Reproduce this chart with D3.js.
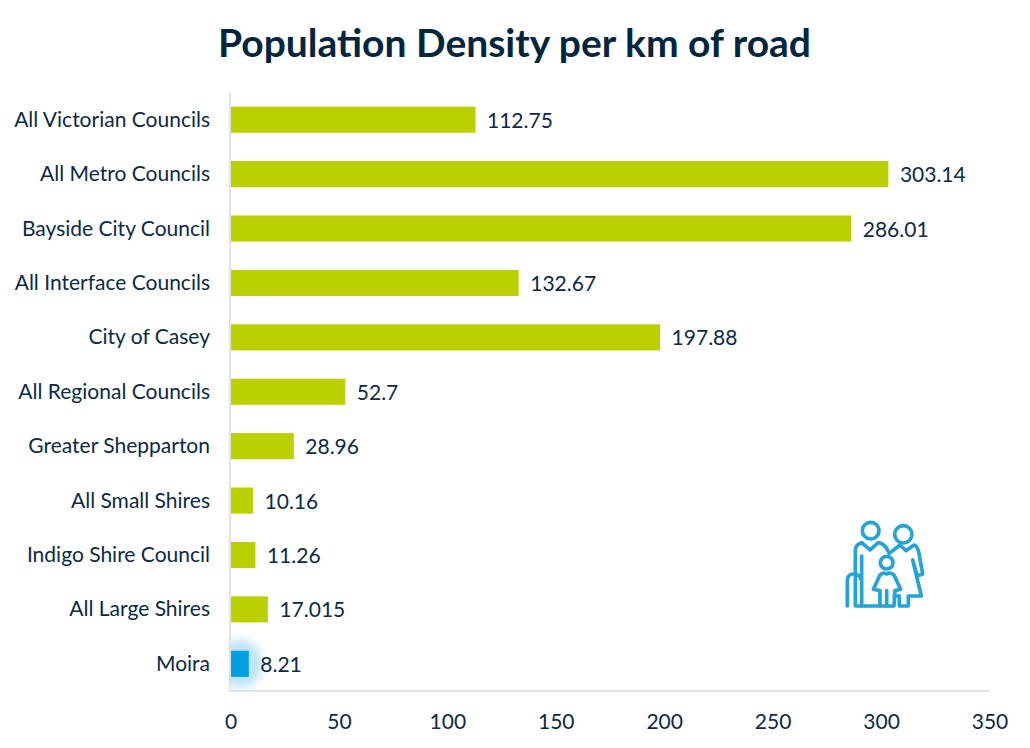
<!DOCTYPE html>
<html lang="en">
<head>
  <meta charset="UTF-8">
  <title>Population Density per km of road</title>
  <script src="https://d3js.org/d3.v7.min.js"></script>
  <style>
    html, body { margin: 0; padding: 0; background: #fff; }
    svg { display: block; }
    text { font-family: Lato, "Open Sans", sans-serif; fill: #0b2a45; }
    .title { font-size: 39px; font-weight: 700; fill: #03263f; text-anchor: middle; }
    .cat, .val, .tick-label { font-size: 21px; }
    .cat { text-anchor: end; }
    .tick-label { text-anchor: middle; }
    .axis-line { stroke: #e2e2e2; stroke-width: 2px; fill: none; }
    .icon path, .icon circle { fill: none; stroke: #23a4d8; stroke-width: 11; stroke-linejoin: round; stroke-linecap: round; }
  </style>
</head>
<body>
  <div id="chart"></div>

  <script>
    const categories = [
      "All Victorian Councils", "All Metro Councils", "Bayside City Council",
      "All Interface Councils", "City of Casey", "All Regional Councils",
      "Greater Shepparton", "All Small Shires", "Indigo Shire Council",
      "All Large Shires", "Moira"
    ];
    const values = [112.75, 303.14, 286.01, 132.67, 197.88, 52.7, 28.96, 10.16, 11.26, 17.015, 8.21];
    const highlighted = ["Moira"];
    const xTicks = [0, 50, 100, 150, 200, 250, 300, 350];

    const width = 1030, height = 748;
    const svg = d3.select("#chart").append("svg")
      .attr("width", width)
      .attr("height", height);

    const x = d3.scaleLinear().domain([0, 350]).range([231, 990]);
    const y = d3.scaleBand().domain(categories).range([92.5, 691]).paddingInner(0.52).paddingOuter(0.26);

    const defs = svg.append("defs");
    const glow = defs.append("radialGradient").attr("id", "glow");
    glow.append("stop").attr("offset", "0%").attr("stop-color", "#a6dcf5").attr("stop-opacity", 0.95);
    glow.append("stop").attr("offset", "60%").attr("stop-color", "#b5e2f7").attr("stop-opacity", 0.8);
    glow.append("stop").attr("offset", "100%").attr("stop-color", "#d5effb").attr("stop-opacity", 0);
    defs.append("filter").attr("id", "soft").append("feGaussianBlur").attr("stdDeviation", 0.6);
    defs.append("clipPath").attr("id", "plot-clip").append("rect")
      .attr("x", x(0)).attr("y", y.range()[0])
      .attr("width", x(350) - x(0)).attr("height", y.range()[1] - y.range()[0]);

    svg.append("text")
      .attr("class", "title")
      .attr("x", 514.5)
      .attr("y", 57)
      .text("Population Density per km of road");

    // glow behind the highlighted bar, cut off by the axes
    svg.append("g").attr("clip-path", "url(#plot-clip)")
      .selectAll(".glow")
      .data(categories.filter(c => highlighted.includes(c)))
      .join("ellipse")
      .attr("class", "glow")
      .attr("cx", c => x(values[categories.indexOf(c)] / 2))
      .attr("cy", c => y(c) + y.bandwidth() / 2)
      .attr("rx", 30)
      .attr("ry", 32)
      .attr("fill", "url(#glow)");

    svg.selectAll(".bar")
      .data(categories)
      .join("rect")
      .attr("class", "bar")
      .attr("x", x(0))
      .attr("y", c => y(c))
      .attr("width", (c, i) => x(values[i]) - x(0))
      .attr("height", y.bandwidth())
      .attr("fill", c => highlighted.includes(c) ? "#009fe3" : "#bbd000");

    svg.append("path")
      .attr("class", "axis-line")
      .attr("d", `M${x(0) - 1},${y.range()[0]}V${y.range()[1]}H${x(350)}`);

    svg.selectAll(".cat")
      .data(categories)
      .join("text")
      .attr("class", "cat")
      .attr("x", 210)
      .attr("y", c => y(c) + y.bandwidth() / 2 + 7)
      .text(c => c);

    svg.selectAll(".val")
      .data(values)
      .join("text")
      .attr("class", "val")
      .attr("x", d => x(d) + 11.5)
      .attr("y", (d, i) => y(categories[i]) + y.bandwidth() / 2 + 8)
      .text(d => d);

    svg.selectAll(".tick-label")
      .data(xTicks)
      .join("text")
      .attr("class", "tick-label")
      .attr("x", d => x(d))
      .attr("y", 729)
      .text(d => d);

    // family icon, traced in zoomed-crop units
    const icon = svg.append("g")
      .attr("class", "icon")
      .attr("filter", "url(#soft)")
      .attr("transform", "translate(820,500) scale(0.3333)");
    [[152, 92, 25], [250, 103, 26], [200, 188, 19]].forEach(h => {
      icon.append("circle").attr("cx", h[0]).attr("cy", h[1]).attr("r", h[2]);
    });
    [
      "M180,318H125V168",
      "M125,318L106,318V150Q108,132 125,128L150,150L175,128Q190,130 200,145L208,160",
      "M82,318V240Q84,222 100,222Q118,222 122,236",
      "M215,155L240,135L258,152L282,135Q292,138 296,155L308,222L292,228L278,180L304,288H265V318H238V288H222",
      "M160,268L180,225Q190,215 200,222Q212,215 222,225L242,268L225,272L222,318H180V272Z",
      "M200,272V318"
    ].forEach(d => icon.append("path").attr("d", d));
  </script>
</body>
</html>
